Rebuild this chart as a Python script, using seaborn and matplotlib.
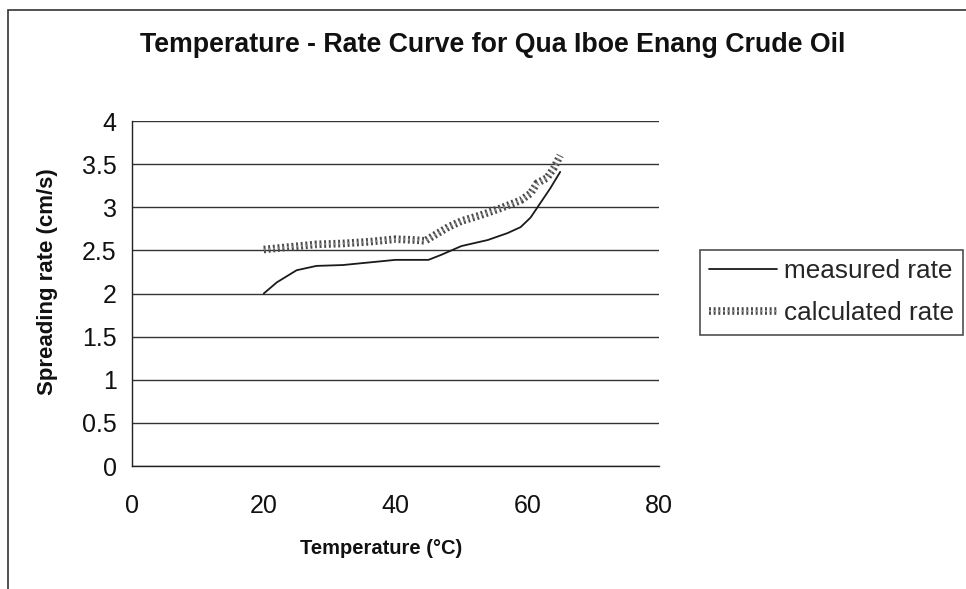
import matplotlib
matplotlib.use("Agg")
import matplotlib.pyplot as plt
import matplotlib.patheffects as pe
from matplotlib.patches import Rectangle
import seaborn as sns
import pandas as pd

title = "Temperature - Rate Curve for Qua Iboe Enang Crude Oil"
x_label = "Temperature (\u00b0C)"
y_label = "Spreading rate (cm/s)"

measured_temp = [20, 22, 25, 28, 32, 36, 40, 45, 47, 50, 54, 57, 59, 60.5, 62, 63.5, 65]
measured_rate = [2.0, 2.13, 2.27, 2.32, 2.33, 2.36, 2.39, 2.39, 2.45, 2.55, 2.62, 2.70, 2.77, 2.88, 3.05, 3.22, 3.41]

calc_temp = [20, 24, 28, 32, 36, 40, 43, 44.5, 46, 48, 50, 53, 56, 59, 60.5, 61.5, 63, 64, 65]
calc_rate = [2.51, 2.54, 2.57, 2.58, 2.60, 2.63, 2.62, 2.61, 2.68, 2.77, 2.84, 2.91, 2.99, 3.08, 3.16, 3.28, 3.34, 3.45, 3.60]

x_ticks = [0, 20, 40, 60, 80]
y_ticks = [0, 0.5, 1, 1.5, 2, 2.5, 3, 3.5, 4]
y_tick_labels = ["0", "0.5", "1", "1.5", "2", "2.5", "3", "3.5", "4"]

sns.set_theme(style="white")
plt.rcParams["font.family"] = ["Liberation Sans", "DejaVu Sans"]

W, H = 966, 589
fig = plt.figure(figsize=(W / 100, H / 100), dpi=100)
ax = fig.add_axes([132 / W, 1 - 466 / H, (659 - 132) / W, (466 - 121) / H])

df_m = pd.DataFrame({"t": measured_temp, "r": measured_rate})
df_c = pd.DataFrame({"t": calc_temp, "r": calc_rate})

sns.lineplot(data=df_m, x="t", y="r", ax=ax, sort=False, estimator=None,
             color="#1a1a1a", linewidth=1.3, label="measured rate")
sns.lineplot(data=df_c, x="t", y="r", ax=ax, sort=False, estimator=None,
             color="#8a8a8a", linewidth=1.4, linestyle=(0, (1, 1.4)), label="calculated rate",
             path_effects=[pe.Stroke(linewidth=5.5, foreground="#4a4a4a"), pe.Normal()])

ax.set_xlim(0, 80)
ax.set_ylim(0, 4)
ax.set_xticks(x_ticks)
ax.set_yticks(y_ticks)
ax.set_yticklabels(y_tick_labels)
ax.tick_params(axis="both", labelsize=18, colors="#111111", direction="out", length=6, width=1)
ax.tick_params(axis="x", pad=14)
ax.tick_params(axis="y", pad=5)
ax.yaxis.grid(True, color="#333333", linewidth=1)
ax.xaxis.grid(False)
ax.set_axisbelow(True)
for s in ["top", "right"]:
    ax.spines[s].set_visible(False)
for s in ["left", "bottom"]:
    ax.spines[s].set_color("#222222")
    ax.spines[s].set_linewidth(1)

ax.set_xlabel(x_label, fontsize=14.5, fontweight="bold", color="#111111", va="center")
ax.xaxis.set_label_coords((381 - 132) / (659 - 132), (466 - 548) / (466 - 121))
ax.set_ylabel(y_label, fontsize=16, fontweight="bold", color="#111111", va="center")
ax.yaxis.set_label_coords((48 - 132) / (659 - 132), (466 - 282) / (466 - 121))

fig.text(493 / W, 1 - 45 / H, title, ha="center", va="center", fontsize=19.3,
         fontweight="bold", color="#111111")

leg = ax.legend(loc="upper left", bbox_to_anchor=(700 / W, 1 - 250 / H),
                bbox_transform=fig.transFigure, fontsize=18.8, frameon=True,
                fancybox=False, edgecolor="#222222", handlelength=2.6,
                handletextpad=0.25, borderpad=0.35, labelspacing=0.7, borderaxespad=0)
leg.get_frame().set_linewidth(1.2)

fig.patches.append(Rectangle((8 / W, -0.05), 1.1, 1 - 10 / H + 0.05, transform=fig.transFigure,
                             fill=False, edgecolor="#333333", linewidth=1.2, zorder=-1))

fig.savefig("out.png", dpi=100)
